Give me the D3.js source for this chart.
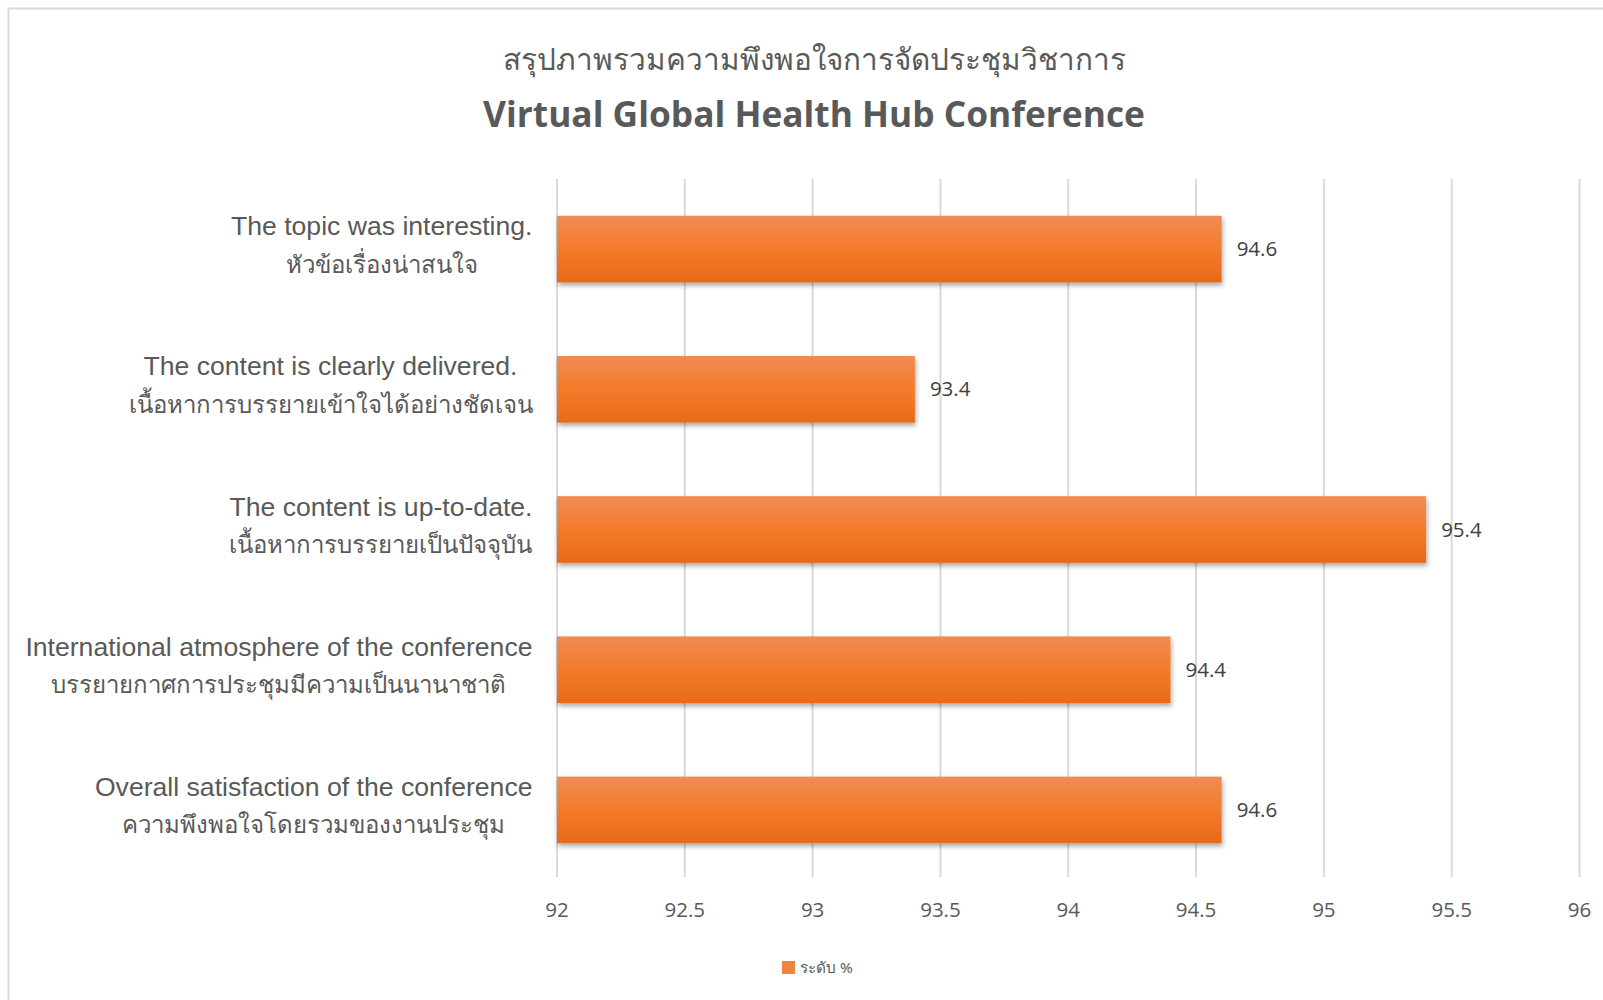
<!DOCTYPE html>
<meta http-equiv="Content-Type" content="text/html; charset=utf-8">
<style>html,body{margin:0;padding:0;background:#fff;overflow:hidden;} svg{display:block;}</style>
<body>
<script src="https://cdn.jsdelivr.net/npm/d3@7/dist/d3.min.js"></script>
<script>
var W = 1603, H = 1000;
var svg = d3.select("body").append("svg").attr("width", W).attr("height", H);

// data
var catsEn = ["The topic was interesting.", "The content is clearly delivered.", "The content is up-to-date.",
              "International atmosphere of the conference", "Overall satisfaction of the conference"];
var catsTh = ["หัวข้อเรื่องน่าสนใจ", "เนื้อหาการบรรยายเข้าใจได้อย่างชัดเจน", "เนื้อหาการบรรยายเป็นปัจจุบัน",
              "บรรยายกาศการประชุมมีความเป็นนานาชาติ", "ความพึงพอใจโดยรวมของงานประชุม"];
var values = [94.6, 93.4, 95.4, 94.4, 94.6];
var ticks = [92, 92.5, 93, 93.5, 94, 94.5, 95, 95.5, 96];
var seriesName = "ระดับ %";
var titleTh = "สรุปภาพรวมความพึงพอใจการจัดประชุมวิชาการ";
var titleEn = "Virtual Global Health Hub Conference";

var txt = "#595959";

// frame
svg.append("path").attr("d", "M8.5," + H + " V8.5 H" + W).attr("fill", "none")
  .attr("stroke", "#d9d9d9").attr("stroke-width", 2);

var defs = svg.append("defs");
var grad = defs.append("linearGradient").attr("id", "barg").attr("x1", 0).attr("y1", 0).attr("x2", 0).attr("y2", 1);
grad.append("stop").attr("offset", "0%").attr("stop-color", "#f08c55");
grad.append("stop").attr("offset", "50%").attr("stop-color", "#f37b2a");
grad.append("stop").attr("offset", "100%").attr("stop-color", "#e76a1a");
var f = defs.append("filter").attr("id", "sh").attr("x", "-5%").attr("y", "-20%").attr("width", "110%").attr("height", "160%");
f.append("feDropShadow").attr("dx", 1).attr("dy", 3).attr("stdDeviation", 2.5)
  .attr("flood-color", "#000").attr("flood-opacity", 0.35);

var x = d3.scaleLinear().domain([92, 96]).range([557, 1579.5]);
var y = d3.scaleBand().domain(d3.range(values.length)).range([179, 880]).paddingInner(0.525).paddingOuter(0.2625);

// grid
svg.append("g").selectAll("line").data(ticks).join("line")
  .attr("x1", d => x(d)).attr("x2", d => x(d)).attr("y1", 179).attr("y2", 877)
  .attr("stroke", "#d9d9d9").attr("stroke-width", 2);

// x axis labels
svg.append("g").selectAll("text").data(ticks).join("text")
  .attr("x", d => x(d)).attr("y", 917).attr("text-anchor", "middle")
  .attr("font-family", "'Open Sans', Calibri, sans-serif").attr("font-size", 20.5).attr("fill", txt)
  .text(d => d);

// bars
svg.append("g").selectAll("rect").data(values).join("rect")
  .attr("x", x(92)).attr("y", (d, i) => y(i)).attr("height", y.bandwidth())
  .attr("width", d => x(d) - x(92)).attr("fill", "url(#barg)").attr("filter", "url(#sh)");

// value labels
svg.append("g").selectAll("text").data(values).join("text")
  .attr("x", d => x(d) + 15).attr("y", (d, i) => y(i) + y.bandwidth() / 2 + 7)
  .attr("font-family", "'Open Sans', Calibri, sans-serif").attr("font-size", 20.5).attr("fill", "#404040")
  .text(d => d);

// category labels: block right-aligned, lines centred inside it
var lab = svg.append("g").attr("font-family", "'Liberation Sans', Arial, sans-serif").attr("fill", txt);
catsEn.forEach(function (en, i) {
  var cy = y(i) + y.bandwidth() / 2;
  var t1 = lab.append("text").attr("y", cy - 14).attr("font-size", 26.6).attr("text-anchor", "middle").text(en);
  var t2 = lab.append("text").attr("y", cy + 23.5).attr("font-size", 24).attr("text-anchor", "middle").text(catsTh[i]);
  var w = Math.max(t1.node().getComputedTextLength(), t2.node().getComputedTextLength());
  var c = 532.5 - w / 2;
  t1.attr("x", c); t2.attr("x", c);
});

// titles
svg.append("text").attr("x", 814).attr("y", 69.5).attr("text-anchor", "middle")
  .attr("font-family", "'Noto Sans', sans-serif").attr("font-weight", 500).attr("font-size", 29.7).attr("fill", txt).text(titleTh);
svg.append("text").attr("x", 814).attr("y", 127).attr("text-anchor", "middle")
  .attr("font-family", "'Open Sans', Calibri, sans-serif").attr("font-weight", "bold").attr("font-size", 35.3)
  .attr("fill", txt).text(titleEn);

// legend
svg.append("rect").attr("x", 782).attr("y", 961).attr("width", 13).attr("height", 13).attr("fill", "#f08340");
svg.append("text").attr("x", 800).attr("y", 973).attr("font-family", "'Noto Sans', sans-serif")
  .attr("font-size", 15.3).attr("fill", txt).text(seriesName);
</script>
</body>
